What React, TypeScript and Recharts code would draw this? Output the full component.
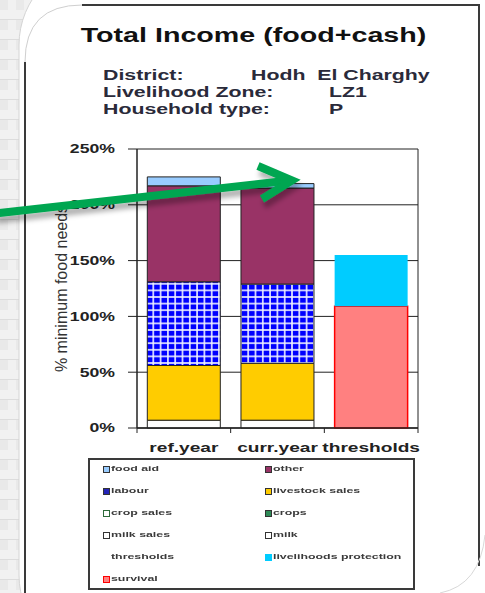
import React from 'react';
import { BarChart, Bar, XAxis, YAxis, CartesianGrid, Legend } from 'recharts';

const categories = ['ref.year', 'curr.year', 'thresholds'];
const milk = [7, 7, 0];
const milkSales = [0, 0, 0];
const crops = [0, 0, 0];
const cropSales = [0, 0, 0];
const livestockSales = [49, 51, 0];
const labour = [75, 71, 0];
const other = [86, 86, 0];
const foodAid = [8, 4, 0];
const survival = [0, 0, 109];
const livelihoodsProtection = [0, 0, 46];
const thresholds = [0, 0, 0];
const yTicks = [0, 50, 100, 150, 200, 250];

// stacking order, bottom first
const series = [
  { key: 'milk', name: 'milk', values: milk, fill: '#FFFFFF', stroke: '#222', swatch: '#FFFFFF', swBorder: '#333' },
  { key: 'milkSales', name: 'milk sales', values: milkSales, fill: '#FFFFFF', stroke: '#222', swatch: '#FFFFFF', swBorder: '#333' },
  { key: 'crops', name: 'crops', values: crops, fill: '#339966', stroke: '#222', swatch: '#2E8B57', swBorder: '#333' },
  { key: 'cropSales', name: 'crop sales', values: cropSales, fill: '#FFFFFF', stroke: '#222', swatch: '#FFFFFF', swBorder: '#2E6B3A' },
  { key: 'livestockSales', name: 'livestock sales', values: livestockSales, fill: '#FFCC00', stroke: '#222', swatch: '#FFCC00', swBorder: '#333' },
  { key: 'labour', name: 'labour', values: labour, fill: 'url(#labourGrid)', stroke: '#222', swatch: '#2323B8', swBorder: '#333' },
  { key: 'other', name: 'other', values: other, fill: '#993366', stroke: '#222', swatch: '#993366', swBorder: '#333' },
  { key: 'foodAid', name: 'food aid', values: foodAid, fill: '#99CCFF', stroke: '#222', swatch: '#99CCFF', swBorder: '#333' },
  { key: 'survival', name: 'survival', values: survival, fill: '#FF8080', stroke: '#FF0000', swatch: '#FF8080', swBorder: '#FF0000' },
  { key: 'livelihoods', name: 'livelihoods protection', values: livelihoodsProtection, fill: '#00CCFF', stroke: 'none', swatch: '#00CCFF', swBorder: '#00CCFF' },
  { key: 'thresholds', name: 'thresholds', values: thresholds, fill: 'none', stroke: 'none', swatch: 'none', swBorder: 'none' },
];

const legendOrder = ['foodAid', 'other', 'labour', 'livestockSales', 'cropSales', 'crops', 'milkSales', 'milk', 'thresholds', 'livelihoods', 'survival'];

const data = categories.map((name, i) => {
  const row: Record<string, string | number> = { name };
  series.forEach((s) => { row[s.key] = s.values[i]; });
  return row;
});

const FONT = '"Liberation Sans", Arial, sans-serif';
const SX = 1.47;

const SText = ({ x, y, size, children, anchor = 'start', weight = 'bold', fill = '#2a2a3a' }: any) => (
  <text
    transform={`translate(${x},${y}) scale(${SX},1)`}
    textAnchor={anchor}
    fontSize={size}
    fontWeight={weight}
    fill={fill}
    fontFamily={FONT}
    style={{ whiteSpace: 'pre' }}
  >
    {children}
  </text>
);

const YTick = ({ x, y, payload }: any) => (
  <text
    transform={`translate(${x},${y}) scale(${SX},1)`}
    textAnchor="end"
    dy="0.36em"
    fontSize={12}
    fontWeight="bold"
    fill="#222"
    fontFamily={FONT}
  >
    {payload.value}%
  </text>
);

const XTick = ({ x, y, payload, index, visibleTicksCount, width }: any) => {
  const n = visibleTicksCount || categories.length;
  const band = (width || 281) / n;
  const ay = y - 8;
  return (
    <g>
      <line x1={x - band / 2} x2={x - band / 2} y1={ay} y2={ay + 5} stroke="#222" />
      {index === n - 1 && <line x1={x + band / 2} x2={x + band / 2} y1={ay} y2={ay + 5} stroke="#222" />}
      <text
        transform={`translate(${x},${ay + 24}) scale(${SX},1)`}
        textAnchor="middle"
        fontSize={13}
        fontWeight="bold"
        fill="#222"
        fontFamily={FONT}
      >
        {payload.value}
      </text>
    </g>
  );
};

const renderLegend = () => (
  <div
    style={{
      width: 327, height: 132, border: '2px solid #3a3a3a', boxSizing: 'border-box',
      position: 'relative', background: '#fff',
    }}
  >
    {legendOrder.map((k, i) => {
      const s = series.find((d) => d.key === k)!;
      const left = i % 2 ? 175 : 13;
      const cy = 9 + Math.floor(i / 2) * 22;
      return (
        <div key={k}>
          {s.swatch !== 'none' && (
            <div
              style={{
                position: 'absolute', left, top: cy - 3, width: 5, height: 5,
                background: s.swatch, border: `1px solid ${s.swBorder}`,
              }}
            />
          )}
          <div
            style={{
              position: 'absolute', left: left + 8, top: cy - 5, fontSize: 8, lineHeight: '10px',
              fontWeight: 'bold', color: '#3a3a3a', fontFamily: FONT, whiteSpace: 'nowrap',
              transform: `scaleX(${SX * 1.05})`, transformOrigin: 'left center',
            }}
          >
            {s.name}
          </div>
        </div>
      );
    })}
  </div>
);

export default function App() {
  return (
    <div style={{ position: 'absolute', left: 0, top: 0, width: 485, height: 593, overflow: 'hidden', background: '#fff' }}>
      <svg width={485} height={593} style={{ position: 'absolute', left: 0, top: 0 }}>
        <defs>
          <pattern id="sheet" width="16" height="20" patternUnits="userSpaceOnUse">
            <rect width="16" height="20" fill="#f1f1f1" />
            <rect width="8" height="10" fill="#e9e9e9" />
            <line x1="0" y1="19.5" x2="16" y2="19.5" stroke="#dcdcdc" />
          </pattern>
        </defs>
        <rect x={0} y={0} width={485} height={593} fill="url(#sheet)" />
        <rect x={19} y={-40} width={600} height={700} rx={85} fill="#fff" stroke="#d4d4d4" />
        <path d="M25,593 L25,62" stroke="#3a3a3a" strokeWidth={2} fill="none" />
        <path d="M25,62 Q25,5 82,5" stroke="#cfcfcf" strokeWidth={1} fill="none" />
        <path d="M82,5 L479,5 L479,566" stroke="#3a3a3a" strokeWidth={2} fill="none" />
        <path d="M485,535 Q480,585 440,593" stroke="#d8d8d8" strokeWidth={1} fill="none" />
        <SText x={253.5} y={42} size={19.5} anchor="middle" fill="#111">Total Income (food+cash)</SText>
        <SText x={103} y={80} size={14.5}>District:</SText>
        <SText x={251} y={80} size={14.5}>{'Hodh  El Charghy'}</SText>
        <SText x={103} y={97} size={14.5}>Livelihood Zone:</SText>
        <SText x={329} y={97} size={14.5}>LZ1</SText>
        <SText x={103} y={114} size={14.5}>Household type:</SText>
        <SText x={329} y={114} size={14.5}>P</SText>
      </svg>

      <div style={{ position: 'absolute', left: 0, top: 0 }}>
        <BarChart
          width={485}
          height={593}
          data={data}
          barCategoryGap="11%"
          margin={{ top: 149, right: 67, bottom: 135, left: 57 }}
        >
          <defs>
            <pattern id="labourGrid" width="7.3" height="6.6" patternUnits="userSpaceOnUse">
              <rect width="7.3" height="6.6" fill="#EEF0FF" />
              <rect x="0.8" y="0.8" width="5.7" height="5.0" fill="#0000FF" />
            </pattern>
          </defs>
          <CartesianGrid
            stroke="#222"
            verticalCoordinatesGenerator={({ offset }: any) => [offset.left + offset.width]}
          />
          <XAxis
            dataKey="name"
            tick={<XTick />}
            tickLine={false}
            tickSize={6}
            tickMargin={2}
            height={30}
            interval={0}
            axisLine={{ stroke: '#222', strokeWidth: 1.5 }}
          />
          <YAxis
            width={80}
            domain={[0, 250]}
            ticks={yTicks}
            interval={0}
            tick={<YTick />}
            tickSize={9}
            tickMargin={13}
            tickLine={{ stroke: '#222' }}
            axisLine={{ stroke: '#222', strokeWidth: 1.5 }}
            label={{
              content: ({ viewBox }: any) => (
                <text
                  transform={`translate(${viewBox.x + 4},${viewBox.y + viewBox.height / 2}) rotate(-90)`}
                  textAnchor="middle"
                  dominantBaseline="central"
                  fontSize={16}
                  fill="#333"
                  fontFamily={FONT}
                >
                  % minimum food needs
                </text>
              ),
            }}
          />
          <Legend
            layout="horizontal"
            verticalAlign="middle"
            align="center"
            wrapperStyle={{ left: 88, top: 458, width: 327, height: 132 }}
            content={renderLegend}
          />
          {series.map((s) => (
            <Bar
              key={s.key}
              dataKey={s.key}
              name={s.name}
              stackId="a"
              fill={s.fill}
              stroke={s.stroke}
              strokeWidth={s.key === 'survival' ? 1.5 : 1}
              isAnimationActive={false}
            />
          ))}
        </BarChart>
      </div>

      <svg width={485} height={593} style={{ position: 'absolute', left: 0, top: 0, pointerEvents: 'none' }}>
        <defs>
          <filter id="arrowShadow" x="-10%" y="-50%" width="120%" height="200%">
            <feDropShadow dx="2" dy="6" stdDeviation="2.5" floodColor="#000" floodOpacity="0.3" />
          </filter>
        </defs>
        <g filter="url(#arrowShadow)" stroke="#00A651" strokeWidth={8} fill="none" strokeLinecap="butt" strokeLinejoin="miter">
          <line x1={-5} y1={213.5} x2={289} y2={180.5} />
          <polyline points="258,166 292,180.5 262,199" />
        </g>
      </svg>
    </div>
  );
}
